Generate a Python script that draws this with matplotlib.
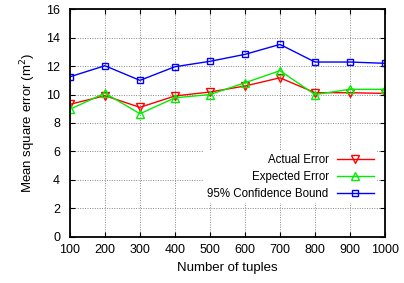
import matplotlib
matplotlib.use("Agg")
import matplotlib.pyplot as plt

plt.rcParams['font.family'] = ['Liberation Sans', 'DejaVu Sans']

tuples = [100, 200, 300, 400, 500, 600, 700, 800, 900, 1000]
actual = [9.31, 9.92, 9.10, 9.90, 10.18, 10.60, 11.18, 10.13, 10.13, 10.08]
expected = [8.96, 10.10, 8.65, 9.77, 10.00, 10.83, 11.68, 10.00, 10.37, 10.37]
bound = [11.25, 12.03, 11.00, 11.96, 12.34, 12.83, 13.53, 12.29, 12.29, 12.20]
yticks = [0, 2, 4, 6, 8, 10, 12, 14, 16]

fig = plt.figure(figsize=(4.04, 2.83), dpi=100)
ax = fig.add_axes([0.173, 0.164, 0.780, 0.803])

ax.plot(tuples, actual, color='#ff0000', lw=1.0, marker='v', ms=5.5, mfc='none', mew=1.0, label='Actual Error')
ax.plot(tuples, expected, color='#00ee00', lw=1.0, marker='^', ms=5.5, mfc='none', mew=1.0, label='Expected Error')
ax.plot(tuples, bound, color='#0000ff', lw=1.0, marker='s', ms=5, mfc='none', mew=1.0, label='95% Confidence Bound')

ax.set_xlim(100, 1000)
ax.set_ylim(0, 16)
ax.set_xticks(tuples)
ax.set_yticks(yticks)
ax.grid(True, color='#888888', linestyle=(0, (1, 1.5)), linewidth=0.7)
ax.tick_params(direction='in', top=True, right=True, labelsize=9, length=3.5, width=0.8)
ax.tick_params(axis='y', pad=7)
ax.tick_params(axis='x', pad=5)
for s in ax.spines.values():
    s.set_linewidth(1.3)

ax.set_xlabel('Number of tuples', fontsize=9.5, labelpad=5)
ax.set_ylabel('Mean square error (m$^2$)', fontsize=9.5, labelpad=6)

leg = ax.legend(loc='lower right', bbox_to_anchor=(0.975, 0.147), frameon=True, markerfirst=False,
                fontsize=8.3, handlelength=3.2, borderaxespad=0.0, labelspacing=0.42,
                handletextpad=0.7, fancybox=False, borderpad=0.3)
leg.get_frame().set_edgecolor('none')
leg.get_frame().set_facecolor('white')
leg.get_frame().set_alpha(1.0)

fig.savefig('out.png', dpi=100)
